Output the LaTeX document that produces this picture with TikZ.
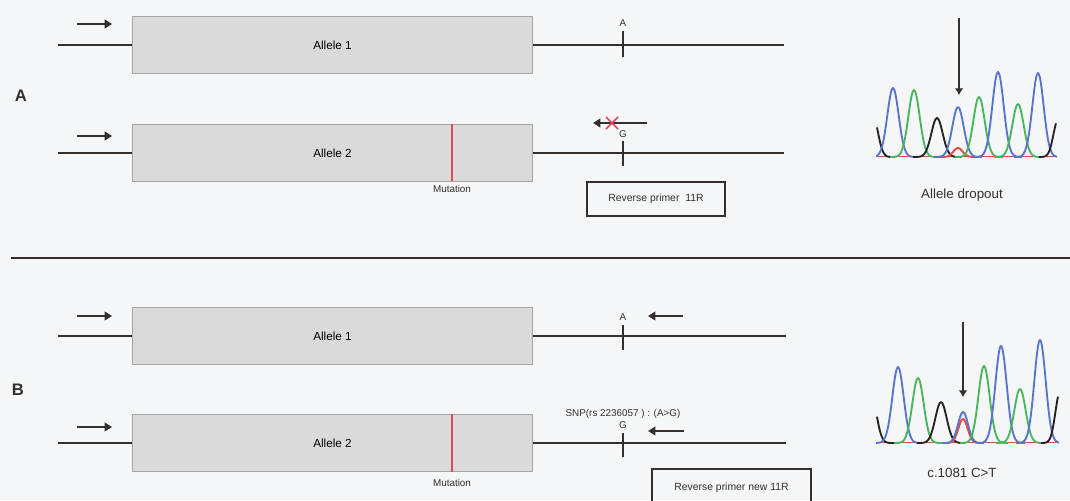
\documentclass[tikz,border=0pt]{standalone}
\usepackage{fontspec}
\setmainfont{Liberation Sans}
\usetikzlibrary{arrows.meta,calc}

\definecolor{paper}{RGB}{244,246,248}
\definecolor{ink}{RGB}{52,46,44}
\definecolor{boxfill}{RGB}{218,218,218}
\definecolor{boxline}{RGB}{165,165,165}
\definecolor{mut}{RGB}{226,72,84}
\definecolor{trA}{RGB}{72,182,92}
\definecolor{trC}{RGB}{88,116,204}
\definecolor{trG}{RGB}{38,34,34}
\definecolor{trT}{RGB}{230,72,72}

% one chromatogram peak: colour, centre, top, baseline, sigma
\newcommand\trpeak[5]{%
  \pgfmathsetmacro\plo{#2-3*#5}\pgfmathsetmacro\phi{#2+3*#5}%
  \draw[trace,#1] plot[domain=\plo:\phi,samples=41,smooth]
    (\x,{#4-(#4-#3)*exp(-((\x-#2)/#5)^2)});}
% part of a peak, cut at the edge of the trace: ... , low x, high x
\newcommand\trpart[7]{%
  \draw[trace,#1] plot[domain=#6:#7,samples=21,smooth]
    (\x,{#4-(#4-#3)*exp(-((\x-#2)/#5)^2)});}

\begin{document}
\begin{tikzpicture}[x=0.75pt,y=-0.75pt,
  exon/.style={draw=boxline,fill=boxfill,line width=0.8pt,inner sep=0pt,
    minimum width=300pt,minimum height=42.5pt,anchor=north west,
    font=\fontsize{8.8}{10}\selectfont},
  dna/.style={draw=ink,line width=1.6pt},
  snp/.style={draw=ink,line width=1.4pt},
  fwd/.style={draw=ink,line width=1.5pt,-{Triangle[length=5.5pt,width=6.5pt]}},
  small/.style={font=\fontsize{7.4}{8}\selectfont,text=ink,inner sep=0pt},
  mutline/.style={draw=mut,line width=1.3pt},
  trace/.style={line width=1.4pt,line join=round},
  pointer/.style={draw=ink,line width=0.9pt,-{Latex[length=5pt,width=6.5pt]}},
  caption/.style={font=\fontsize{10}{12}\selectfont,text=ink,inner sep=0pt},
  panel/.style={font=\fontsize{12.5}{14}\selectfont\bfseries,text=ink,inner sep=0pt},
  labelbox/.style={draw=ink,line width=1.3pt,font=\fontsize{7.8}{9}\selectfont,text=ink}]

\useasboundingbox (0,0) rectangle (1070,500);
\fill[paper] (0,0) rectangle (1070,500);
\clip (0,0) rectangle (1070,500);

% ---------------- panel A ----------------
\node[panel] (labA) at (21,96) {A};

% allele 1
\node[exon] (a1) at (132,16) {Allele 1};
\draw[dna] (a1.west) -- ++(-74,0) coordinate (a1l);
\draw[dna] (a1.east) -- ++(251,0) coordinate (a1r);
\coordinate (a1s) at (623,44);
\draw[snp] ($(a1s)+(0,-13)$) -- ($(a1s)+(0,13)$);
\node[small] (a1b) at (623,23) {A};
\coordinate (a1p0) at (77,24); \coordinate (a1p1) at (112,24);
\draw[fwd] (a1p0) -- (a1p1);

% allele 2
\node[exon] (a2) at (132,124) {Allele 2};
\draw[dna] (a2.west) -- ++(-74,0) coordinate (a2l);
\draw[dna] (a2.east) -- ++(251,0) coordinate (a2r);
\coordinate (a2m0) at (452,124); \coordinate (a2m1) at (452,181);
\draw[mutline] (a2m0) -- (a2m1);
\node[small] (a2mt) at (452,189) {Mutation};
\coordinate (a2s) at (623,153);
\draw[snp] ($(a2s)+(0,-12)$) -- ($(a2s)+(0,13)$);
\node[small] (a2b) at (623,134) {G};
\coordinate (a2p0) at (77,136); \coordinate (a2p1) at (112,136);
\draw[fwd] (a2p0) -- (a2p1);
% reverse primer that fails to bind
\coordinate (a2r0) at (647,123); \coordinate (a2r1) at (593,123);
\draw[fwd] (a2r0) -- (a2r1);
\coordinate (a2x) at (612,123);
\draw[mut,line width=1.3pt] ($(a2x)+(-6,-6)$) -- ($(a2x)+(6,6)$)
                            ($(a2x)+(-6,6)$) -- ($(a2x)+(6,-6)$);
\node[labelbox,minimum width=103.5pt,minimum height=25.5pt] (boxA) at (656,199) {Reverse primer\ \ 11R};

% chromatogram A
\begin{scope}
\clip (876,20) rectangle (1057,160);
\draw[trT,line width=1.1pt] (877,156.5) -- (1056,156.5);
\trpart{trG}{873}{116}{157}{7}{877}{895}
\trpeak{trC}{893}{88}{157}{8}
\trpeak{trA}{914}{90}{157}{8}
\trpeak{trG}{937}{118}{157}{8}
\trpeak{trT}{958}{148}{157}{6.5}
\trpeak{trC}{958}{107}{157}{8}
\trpeak{trA}{979}{97}{157}{8}
\trpeak{trC}{998}{72}{157}{8}
\trpeak{trA}{1018}{104}{157}{8}
\trpeak{trC}{1038}{73}{157}{8}
\trpart{trG}{1058}{120}{157}{6.5}{1039}{1056}
\end{scope}
\coordinate (pa0) at (959,18); \coordinate (pa1) at (959,95);
\draw[pointer] (pa0) -- (pa1);
\node[caption] (capA) at (962,195) {Allele dropout};

% divider
\coordinate (d0) at (11,258); \coordinate (d1) at (1070,258);
\draw[draw=ink,line width=1.3pt] (d0) -- (d1);

% ---------------- panel B ----------------
\node[panel] (labB) at (18,390) {B};

% allele 1
\node[exon] (b1) at (132,307) {Allele 1};
\draw[dna] (b1.west) -- ++(-74,0) coordinate (b1l);
\draw[dna] (b1.east) -- ++(253,0) coordinate (b1r);
\coordinate (b1s) at (623,336);
\draw[snp] ($(b1s)+(0,-11)$) -- ($(b1s)+(0,14)$);
\node[small] (b1b) at (623,317) {A};
\coordinate (b1p0) at (77,316); \coordinate (b1p1) at (112,316);
\draw[fwd] (b1p0) -- (b1p1);
\coordinate (b1r0) at (683,316); \coordinate (b1r1) at (648,316);
\draw[fwd] (b1r0) -- (b1r1);

% allele 2
\node[exon] (b2) at (132,414) {Allele 2};
\draw[dna] (b2.west) -- ++(-74,0) coordinate (b2l);
\draw[dna] (b2.east) -- ++(253,0) coordinate (b2r);
\coordinate (b2m0) at (452,414); \coordinate (b2m1) at (452,472);
\draw[mutline] (b2m0) -- (b2m1);
\node[small] (b2mt) at (452,483) {Mutation};
\coordinate (b2s) at (623,443);
\draw[snp] ($(b2s)+(0,-10)$) -- ($(b2s)+(0,14)$);
\node[small] (b2b) at (623,425) {G};
\node[small] (snp) at (623,414) {SNP(rs 2236057 ) : (A>G)};
\coordinate (b2p0) at (77,427); \coordinate (b2p1) at (112,427);
\draw[fwd] (b2p0) -- (b2p1);
\coordinate (b2r0) at (684,431); \coordinate (b2r1) at (648,431);
\draw[fwd] (b2r0) -- (b2r1);
% label box running off the lower edge
\node[font=\fontsize{7.8}{9}\selectfont,text=ink,inner sep=0pt] (boxB) at (731.5,488) {Reverse primer new 11R};
\draw[draw=ink,line width=1.3pt] (652,510) |- (811,469) -- (811,510);

% chromatogram B
\begin{scope}
\clip (876,320) rectangle (1059,446);
\draw[trT,line width=1.1pt] (877,442.5) -- (1058,442.5);
\trpart{trG}{871}{393}{443}{7.5}{877}{897}
\trpeak{trC}{898}{367}{443}{8}
\trpeak{trA}{918}{378}{443}{8}
\trpeak{trG}{941}{402}{443}{8}
\trpeak{trT}{963}{419}{443}{6.5}
\trpeak{trC}{963}{412}{443}{7}
\trpeak{trA}{984}{366}{443}{8}
\trpeak{trC}{1001}{346}{443}{8}
\trpeak{trA}{1020}{389}{443}{8}
\trpeak{trC}{1040}{340}{443}{8}
\trpart{trG}{1060}{392}{443}{6.5}{1041}{1058}
\end{scope}
\coordinate (pb0) at (963,322); \coordinate (pb1) at (963,397);
\draw[pointer] (pb0) -- (pb1);
\node[caption] (capB) at (962,473) {c.1081 C>T};
\end{tikzpicture}
\end{document}
